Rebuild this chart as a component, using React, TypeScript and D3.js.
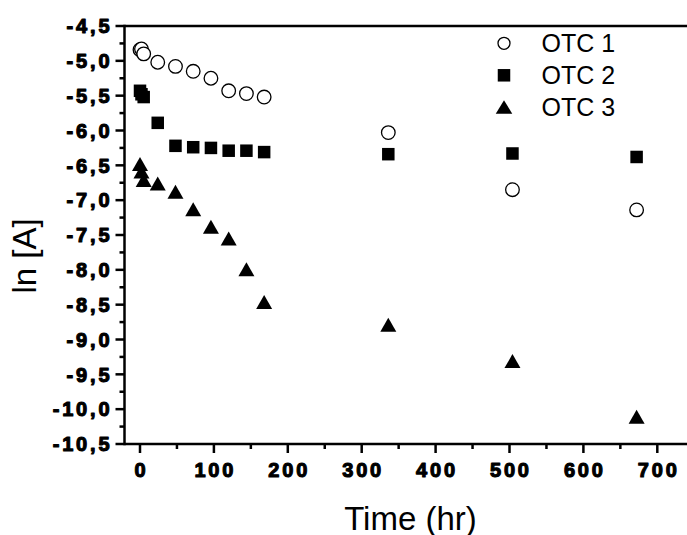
import React from "react";
import * as d3 from "d3";

const times = [0, 2, 5, 24, 48, 72, 96, 120, 144, 168, 336, 504, 672];
const otc1 = [-4.84, -4.83, -4.9, -5.02, -5.08, -5.15, -5.25, -5.43, -5.47, -5.52, -6.03, -6.85, -7.14];
const otc2 = [-5.43, -5.48, -5.52, -5.89, -6.22, -6.24, -6.25, -6.29, -6.29, -6.31, -6.34, -6.33, -6.38];
const otc3 = [-6.48, -6.59, -6.71, -6.76, -6.88, -7.13, -7.38, -7.55, -7.99, -8.46, -8.79, -9.31, -10.11];
const seriesNames = ["OTC 1", "OTC 2", "OTC 3"];
const xTicks = [0, 100, 200, 300, 400, 500, 600, 700];
const xMinor = [50, 150, 250, 350, 450, 550, 650];
const yTicks = [-4.5, -5, -5.5, -6, -6.5, -7, -7.5, -8, -8.5, -9, -9.5, -10, -10.5];
const yMinor = [-4.75, -5.25, -5.75, -6.25, -6.75, -7.25, -7.75, -8.25, -8.75, -9.25, -9.75, -10.25];

const W = 687;
const H = 535;
const FONT = "'Liberation Sans', Arial, Helvetica, sans-serif";

const locale = d3.formatLocale({ decimal: ",", thousands: ".", grouping: [3], currency: ["", ""], minus: "-" });
const fmtY = locale.format(".1f");

export default function App() {
  const x = d3.scaleLinear().domain([0, 700]).range([140, 657.3]);
  const y = d3.scaleLinear().domain([-4.5, -10.5]).range([26, 444]);
  const left = 124.5;
  const top = y(-4.5);
  const bottom = y(-10.5);
  const right = 700;
  const gap = 2.8;
  const spaced = (s: string) => s.split("").map((_, i) => (i === 0 ? 0 : gap)).join(" ");

  const tri = (w: number, h: number) => `M0,${-h / 2}L${w / 2},${h / 2}L${-w / 2},${h / 2}Z`;

  const circle = (key: string, cx: number, cy: number, r: number) => (
    <circle key={key} cx={cx} cy={cy} r={r} fill="#fff" stroke="#000" strokeWidth={1.3} />
  );
  const square = (key: string, cx: number, cy: number, s: number) => (
    <rect key={key} x={cx - s / 2} y={cy - s / 2} width={s} height={s} fill="#000" />
  );
  const triangle = (key: string, cx: number, cy: number, w: number, h: number) => (
    <path key={key} d={tri(w, h)} transform={`translate(${cx},${cy})`} fill="#000" />
  );

  const legendX = 504;
  const legendRows = [43.3, 75.3, 107];

  return (
    <svg width={W} height={H} style={{ position: "absolute", left: 0, top: 0, background: "#fff" }} fontFamily={FONT}>
      <rect width={W} height={H} fill="#fff" />
      {/* data */}
      <g>
        {times.map((t, i) => square(`s${i}`, x(t), y(otc2[i]), 12.5))}
        {times.map((t, i) => triangle(`t${i}`, x(t), y(otc3[i]), 16, 14))}
        {times.map((t, i) => circle(`c${i}`, x(t), y(otc1[i]), 6.8))}
      </g>
      {/* axes */}
      <g stroke="#000" strokeWidth={2.5} fill="none">
        <line x1={left} x2={left} y1={top - 1.25} y2={bottom + 1.25} />
        <line x1={left} x2={right} y1={top} y2={top} />
        <line x1={left} x2={right} y1={bottom} y2={bottom} />
        {yTicks.map((v) => (
          <line key={`yt${v}`} x1={left - 9} x2={left} y1={y(v)} y2={y(v)} />
        ))}
        {yMinor.map((v) => (
          <line key={`ym${v}`} x1={left - 5} x2={left} y1={y(v)} y2={y(v)} />
        ))}
        {xTicks.map((v) => (
          <line key={`xt${v}`} x1={x(v)} x2={x(v)} y1={bottom} y2={bottom + 9} />
        ))}
        {xMinor.map((v) => (
          <line key={`xm${v}`} x1={x(v)} x2={x(v)} y1={bottom} y2={bottom + 5} />
        ))}
      </g>
      <g fontSize={20} fontWeight="bold" fill="#000" stroke="#000" strokeWidth={1.1} strokeLinejoin="round">
        {yTicks.map((v) => {
          const s = fmtY(v);
          return (
            <text key={`yl${v}`} x={109.5} y={y(v) + 7.2} dx={spaced(s)} textAnchor="end">
              {s}
            </text>
          );
        })}
        {xTicks.map((v) => {
          const s = String(v);
          return (
            <text key={`xl${v}`} x={x(v)} y={477} dx={spaced(s)} textAnchor="middle">
              {s}
            </text>
          );
        })}
      </g>
      {/* axis titles */}
      <text x={410.5} y={529.5} fontSize={33} textAnchor="middle" fill="#000">
        Time (hr)
      </text>
      <text transform="translate(36,256) rotate(-90)" fontSize={33} textAnchor="middle" fill="#000">
        ln [A]
      </text>
      {/* legend */}
      <g>
        {circle("lc", legendX, legendRows[0], 6)}
        {square("ls", legendX, legendRows[1], 12.5)}
        {triangle("lt", legendX, legendRows[2], 16.5, 13.5)}
        {seriesNames.map((n, i) => (
          <text key={n} x={541.5} y={legendRows[i] + 8.8} fontSize={25} fill="#000">
            {n}
          </text>
        ))}
      </g>
    </svg>
  );
}
